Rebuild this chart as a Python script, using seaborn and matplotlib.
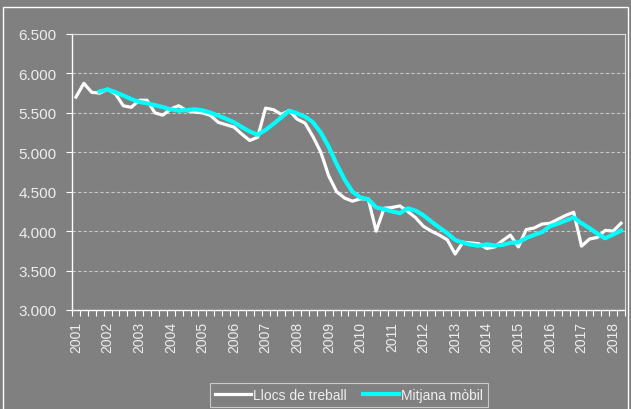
import matplotlib
matplotlib.use('Agg')
import matplotlib.pyplot as plt
import seaborn as sns
import pandas as pd
import numpy as np
from matplotlib.patches import Rectangle
from matplotlib.ticker import FuncFormatter

# ---- data (quarterly, 2001T1 .. 2018T2) ----
years = list(range(2001, 2019))
llocs = [5700, 5875, 5760, 5750,
         5800, 5740, 5590, 5570,
         5660, 5660, 5500, 5470,
         5550, 5590, 5530, 5510,
         5500, 5470, 5380, 5350,
         5320, 5230, 5150, 5190,
         5560, 5540, 5480, 5530,
         5420, 5370, 5200, 5000,
         4700, 4500, 4420, 4380,
         4410, 4410, 4000, 4290,
         4300, 4320, 4250, 4170,
         4060, 4000, 3950, 3890,
         3710, 3860, 3850, 3840,
         3780, 3800, 3880, 3950,
         3800, 4020, 4040, 4090,
         4100, 4150, 4200, 4240,
         3810, 3900, 3920, 4010,
         4000, 4100]
mitjana = [np.nan, np.nan, np.nan, 5771,
           5796, 5762, 5720, 5675,
           5640, 5620, 5598, 5573,
           5545, 5528, 5535, 5545,
           5533, 5503, 5465, 5425,
           5380, 5320, 5263, 5223,
           5283, 5360, 5443, 5528,
           5493, 5450, 5380, 5248,
           5068, 4850, 4655, 4500,
           4428, 4405, 4300, 4278,
           4250, 4228, 4290, 4260,
           4200, 4120, 4045, 3975,
           3888, 3853, 3828, 3815,
           3833, 3818, 3825, 3853,
           3858, 3913, 3953, 3988,
           4063, 4095, 4135, 4173,
           4100, 4038, 3968, 3910,
           3958, 4008]
series_names = ['Llocs de treball', 'Mitjana mòbil']

n = len(llocs)
df = pd.DataFrame({'pos': np.arange(n), series_names[0]: llocs, series_names[1]: mitjana})

BG = '#808080'
TXT = '#eeeeee'
W, H = 631, 410

plt.rcParams['font.family'] = ['Liberation Sans', 'DejaVu Sans']

fig = plt.figure(figsize=(W / 100, H / 100), dpi=100, facecolor=BG)
L, R, T, B = 72, 625, 35, 311
ax = fig.add_axes([L / W, 1 - B / H, (R - L) / W, (B - T) / H])
ax.set_facecolor(BG)

sns.lineplot(data=df, x='pos', y=series_names[0], ax=ax, color='white', lw=2.3,
             label=series_names[0])
sns.lineplot(data=df, x='pos', y=series_names[1], ax=ax, color='#00ffff', lw=3.0,
             label=series_names[1])

ax.set_xlim(-0.5, n - 0.5)
ax.set_ylim(3000, 6500)
ax.set_xlabel('')
ax.set_ylabel('')

ax.set_yticks(np.arange(3000, 6501, 500))
ax.yaxis.set_major_formatter(FuncFormatter(lambda v, p: f"{v:,.0f}".replace(',', '.')))
ax.tick_params(axis='y', colors='white', labelcolor=TXT, labelsize=11, length=4, width=0.8, pad=7)

# x: tick marks on category boundaries, year labels on first-quarter centres
ax.set_xticks(np.arange(-0.5, n, 1))
ax.set_xticklabels([])
ax.tick_params(axis='x', which='major', colors='white', length=4, width=0.8)
ax.set_xticks([4 * i for i in range(len(years))], minor=True)
ax.set_xticklabels([str(y) for y in years], minor=True, rotation=90)
ax.tick_params(axis='x', which='minor', length=0, labelcolor=TXT, labelsize=10, pad=8)

ax.yaxis.grid(True, color='#c8c8c8', linestyle=(0, (3, 2)), lw=0.8)
ax.xaxis.grid(False)
ax.set_axisbelow(True)

for s in ['left', 'bottom']:
    ax.spines[s].set_color('white')
    ax.spines[s].set_linewidth(1.0)
for s in ['top', 'right']:
    ax.spines[s].set_color('#dddddd')
    ax.spines[s].set_linewidth(0.8)

leg = ax.legend(loc='upper center', bbox_to_anchor=(349 / W, 1 - 384 / H),
                bbox_transform=fig.transFigure, ncol=2, frameon=True, fancybox=False,
                facecolor=BG, edgecolor='#dddddd', labelcolor=TXT, fontsize=10,
                handlelength=2.6, handletextpad=0.1, columnspacing=1.2, borderpad=0.35,
                borderaxespad=0)
leg.get_frame().set_linewidth(0.8)

fig.patches.append(Rectangle((3 / W, 1 - 414 / H), (628 - 3) / W, (414 - 8) / H,
                             transform=fig.transFigure, fill=False, edgecolor='white', lw=1))

fig.savefig('out.png', dpi=100, facecolor=BG)
